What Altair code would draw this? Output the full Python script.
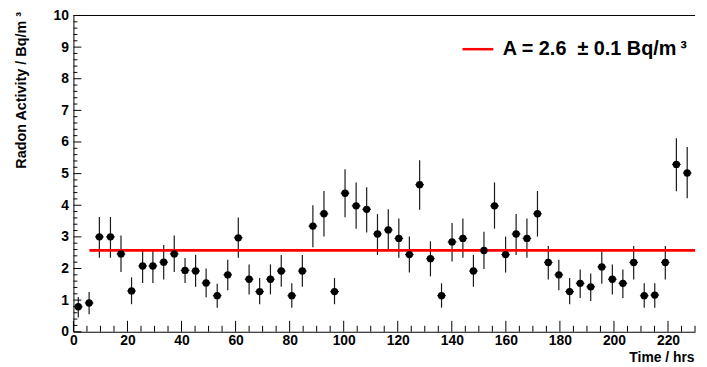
import altair as alt
import pandas as pd

# ---- data ----
time_hrs = [1.8, 5.8, 9.6, 13.7, 17.6, 21.5, 25.6, 29.4, 33.4, 37.3,
            41.3, 45.2, 49.1, 53.2, 57.1, 61.0, 65.0, 68.9, 72.9, 76.9,
            80.8, 84.7, 88.6, 92.7, 96.6, 100.5, 104.6, 108.5, 112.5, 116.5,
            120.4, 124.3, 128.1, 132.1, 136.2, 140.1, 144.1, 148.0, 151.9, 155.8,
            159.9, 163.8, 167.8, 171.7, 175.7, 179.6, 183.6, 187.5, 191.4, 195.5,
            199.4, 203.3, 207.3, 211.2, 215.1, 219.0, 223.1, 227.1]
activity = [0.79, 0.91, 3.00, 3.00, 2.46, 1.29, 2.08, 2.08, 2.20, 2.46,
            1.94, 1.92, 1.54, 1.14, 1.80, 2.97, 1.66, 1.27, 1.66, 1.92,
            1.14, 1.92, 3.34, 3.73, 1.27, 4.38, 3.98, 3.87, 3.09, 3.22,
            2.95, 2.44, 4.65, 2.31, 1.14, 2.84, 2.95, 1.92, 2.57, 3.98,
            2.44, 3.09, 2.95, 3.73, 2.19, 1.80, 1.27, 1.53, 1.42, 2.05,
            1.66, 1.53, 2.19, 1.14, 1.16, 2.19, 5.29, 5.02]
err_low = [0.45, 0.55, 2.34, 2.34, 1.89, 0.87, 1.54, 1.54, 1.65, 1.89,
           1.54, 1.42, 1.09, 0.76, 1.31, 2.34, 1.18, 0.87, 1.18, 1.42,
           0.76, 1.42, 2.67, 3.01, 0.87, 3.62, 3.26, 3.14, 2.43, 2.57,
           2.34, 1.87, 3.86, 1.75, 0.76, 2.22, 2.34, 1.42, 1.98, 3.26,
           1.87, 2.43, 2.34, 3.01, 1.65, 1.31, 0.87, 1.07, 0.97, 1.52,
           1.18, 1.07, 1.65, 0.76, 0.76, 1.65, 4.44, 4.22]
err_high = [1.10, 1.26, 3.63, 3.63, 3.04, 1.72, 2.60, 2.60, 2.74, 3.04,
            2.33, 2.43, 2.00, 1.52, 2.28, 3.61, 2.13, 1.70, 2.13, 2.43,
            1.53, 2.43, 4.00, 4.45, 1.70, 5.14, 4.72, 4.57, 3.72, 3.87,
            3.58, 3.01, 5.42, 2.86, 1.53, 3.44, 3.58, 2.43, 3.16, 4.72,
            3.01, 3.72, 3.58, 4.45, 2.71, 2.28, 1.70, 1.97, 1.84, 2.54,
            2.13, 1.97, 2.71, 1.53, 1.53, 2.71, 6.12, 5.84]
time_err = 1.6

fit_value = 2.57
fit_start = 5.9
fit_end = 230
fit_label = "A = 2.6 \u00a0\u00b1 0.1 Bq/m\u2009\u00b3"

x_labels = [0, 20, 40, 60, 80, 100, 120, 140, 160, 180, 200, 220]
y_labels = [0, 1, 2, 3, 4, 5, 6, 7, 8, 9, 10]
x_minor = [v for v in range(0, 231, 5) if v % 20]
y_minor = [i / 5 for i in range(0, 51) if i % 5]

X_MAX = 230
Y_MAX = 10
W, H = 627, 319
FONT = "Liberation Sans"

df = pd.DataFrame({
    "t": time_hrs,
    "a": activity,
    "lo": err_low,
    "hi": err_high,
})
df["tlo"] = df["t"] - time_err
df["thi"] = df["t"] + time_err

xs = alt.Scale(domain=[0, X_MAX], nice=False, zero=False)
ys = alt.Scale(domain=[0, Y_MAX], nice=False)

x_axis = alt.Axis(values=x_labels, format="d", ticks=False, tickSize=0, grid=False,
                  labelFont=FONT, labelFontWeight="bold", labelFontSize=14,
                  labelColor="black", labelPadding=2, labelFlush=False,
                  labelOverlap=False,
                  domainColor="black", domainWidth=1,
                  title="Time / hrs", titleFont=FONT, titleFontWeight="bold",
                  titleFontSize=14, titleColor="black", titleX=W - 1, titleY=26,
                  titleAlign="right", titleBaseline="middle")
y_axis = alt.Axis(values=y_labels, format="d", ticks=False, tickSize=0, grid=False,
                  labelFont=FONT, labelFontWeight="bold", labelFontSize=14,
                  labelColor="black", labelPadding=5, labelFlush=False,
                  labelOverlap=False,
                  domainColor="black", domainWidth=1,
                  title="Radon Activity / Bq/m \u00b3", titleFont=FONT,
                  titleFontWeight="bold", titleFontSize=14.5, titleColor="black",
                  titleAngle=270, titleX=-52, titleY=-4, titleAlign="right",
                  titleBaseline="middle")


def X(field):
    return alt.X(field, scale=xs, axis=x_axis)


def Y(field):
    return alt.Y(field, scale=ys, axis=y_axis)


base = alt.Chart(df)

vert = base.mark_rule(color="#1a1a1a", strokeWidth=1.2).encode(
    x=X("t:Q"), y=Y("lo:Q"), y2="hi:Q",
)
horiz = base.mark_rule(color="#1a1a1a", strokeWidth=1.2).encode(
    x=X("tlo:Q"), x2="thi:Q", y=Y("a:Q"),
)
points = base.mark_circle(size=55, color="black", opacity=1).encode(
    x=X("t:Q"), y=Y("a:Q"),
)

fit_df = pd.DataFrame({"x0": [fit_start], "x1": [fit_end], "y": [fit_value],
                       "label": [fit_label]})
fit = alt.Chart(fit_df).mark_rule(strokeWidth=2.8).encode(
    x=X("x0:Q"), x2="x1:Q", y=Y("y:Q"),
    color=alt.Color("label:N", scale=alt.Scale(range=["#ff0000"]),
                    legend=alt.Legend(orient="none", legendX=391, legendY=17,
                                      title=None, symbolType="stroke",
                                      symbolSize=961, symbolStrokeWidth=2.5,
                                      labelFont=FONT, labelFontWeight="bold",
                                      labelFontSize=20, labelColor="black",
                                      labelOffset=8, padding=0, labelLimit=400)),
)

top_frame = alt.Chart(pd.DataFrame({"y": [Y_MAX]})).mark_rule(
    color="black", strokeWidth=1).encode(
    y=Y("y:Q"), x=alt.value(0), x2=alt.value(W))

y_major_t = alt.Chart(pd.DataFrame({"v": y_labels})).mark_rule(
    color="black", strokeWidth=1).encode(
    y=Y("v:Q"), x=alt.value(0), x2=alt.value(8))
y_minor_t = alt.Chart(pd.DataFrame({"v": y_minor})).mark_rule(
    color="black", strokeWidth=1).encode(
    y=Y("v:Q"), x=alt.value(0), x2=alt.value(4))
x_major_t = alt.Chart(pd.DataFrame({"v": x_labels})).mark_rule(
    color="black", strokeWidth=1).encode(
    x=X("v:Q"), y=alt.value(H), y2=alt.value(H - 11))
x_minor_t = alt.Chart(pd.DataFrame({"v": x_minor})).mark_rule(
    color="black", strokeWidth=1).encode(
    x=X("v:Q"), y=alt.value(H), y2=alt.value(H - 6))

chart = alt.layer(
    vert, horiz, fit, points, top_frame, y_major_t, y_minor_t, x_major_t, x_minor_t
).properties(
    width=W, height=H,
    autosize=alt.AutoSizeParams(type="none"),
    padding={"left": 66, "top": 6, "right": 4, "bottom": 32},
    background="white",
).configure_view(stroke=None)

chart.save("out.html", embed_options={"renderer": "svg", "actions": False})
